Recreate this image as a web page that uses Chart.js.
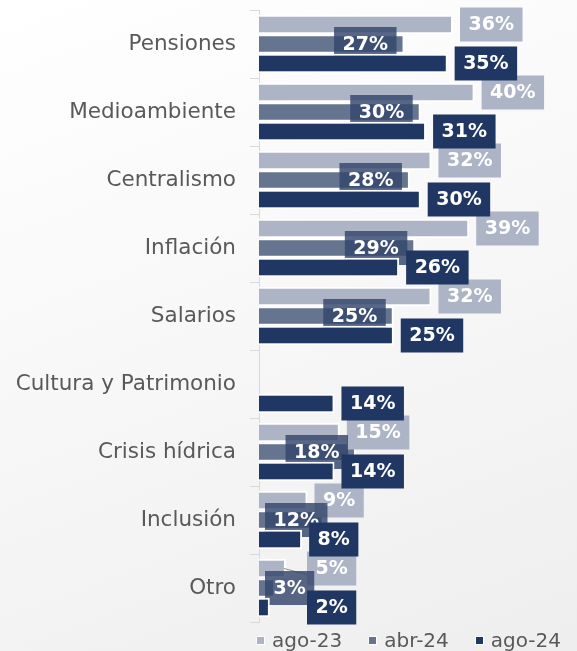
<!DOCTYPE html>
<html>
<head>
<meta charset="utf-8">
<script src="https://cdn.jsdelivr.net/npm/chart.js@4/dist/chart.umd.min.js"></script>
<style>
    html, body { margin: 0; padding: 0; }
    body {
        width: 577px; height: 651px; overflow: hidden; position: relative;
        background: linear-gradient(160deg, #ffffff 0%, #f7f7f7 50%, #eeeeee 100%);
        font-family: 'DejaVu Sans', sans-serif;
    }
    #wrap { position: absolute; left: 0; top: 0; width: 577px; height: 651px; }
    #legend {
        position: absolute; left: 256px; top: 629px; width: 330px;
        display: flex; align-items: center; white-space: nowrap;
        font-size: 20px; line-height: 22px; color: #595959;
    }
    #legend .item { display: flex; align-items: center; margin-right: 26px; flex: none; }
    #legend .box { width: 7px; height: 7px; border: 1px solid #fff; margin-right: 7px; }
</style>
</head>
<body>
<div id="wrap"><canvas id="chart"></canvas></div>
<div id="legend"></div>
<script>
// categories and series (percent)
var categories = ['Pensiones', 'Medioambiente', 'Centralismo', 'Inflación', 'Salarios',
    'Cultura y Patrimonio', 'Crisis hídrica', 'Inclusión', 'Otro'];
var seriesNames = ['ago-23', 'abr-24', 'ago-24'];
var ago23 = [36, 40, 32, 39, 32, null, 15, 9, 5];
var abr24 = [27, 30, 28, 29, 25, null, 18, 12, 3];
var ago24 = [35, 31, 30, 26, 25, 14, 14, 8, 2];
var colors = ['#adb4c6', '#66758f', '#213763'];
var boxColors = ['#adb4c6', 'rgba(52,70,108,0.82)', '#213763'];

//--- data labels in boxes
function drawLabels(chart, idx, inside) {
    var ctx = chart.ctx;
    var meta = chart.getDatasetMeta(idx);
    var data = chart.data.datasets[idx].data;
    ctx.save();
    ctx.font = 'bold 19px "DejaVu Sans"';
    ctx.textBaseline = 'middle';
    ctx.textAlign = 'center';
    meta.data.forEach(function (bar, i) {
        if (data[i] === null) return;
        var txt = data[i] + '%';
        var w = ctx.measureText(txt).width + 17;
        var h = 34;
        var x0;
        if (inside) {
            x0 = Math.max(bar.x - 8 - w, chart.chartArea.left + 6);
        } else {
            x0 = Math.max(bar.x + 7, chart.chartArea.left + 48);
            if (idx === 0 && x0 - bar.x > 20) {
                ctx.strokeStyle = '#8c8c8c';
                ctx.lineWidth = 1;
                ctx.beginPath();
                ctx.moveTo(bar.x - 2, bar.y);
                ctx.lineTo(x0, bar.y + 6);
                ctx.stroke();
            }
        }
        ctx.fillStyle = boxColors[idx];
        ctx.fillRect(x0, bar.y - h / 2, w, h);
        ctx.fillStyle = '#ffffff';
        ctx.fillText(txt, x0 + w / 2, bar.y + 1);
    });
    ctx.restore();
}

var boxLabels = {
    id: 'boxLabels',
    afterDatasetsDraw: function (chart) {
        drawLabels(chart, 0, false);
        drawLabels(chart, 1, true);
        // ago-24 bars sit over the abr-24 boxes
        chart.getDatasetMeta(2).data.forEach(function (b) { b.draw(chart.ctx); });
        drawLabels(chart, 2, false);
    }
};

var seriesData = [ago23, abr24, ago24];
var datasets = seriesNames.map(function (name, i) {
    return {
        label: name,
        data: seriesData[i],
        backgroundColor: colors[i],
        borderColor: '#ffffff',
        borderWidth: 2,
        categoryPercentage: 0.86,
        barPercentage: 1
    };
});

new Chart(document.getElementById('chart'), {
    type: 'bar',
    data: { labels: categories, datasets: datasets },
    options: {
        indexAxis: 'y',
        responsive: true,
        maintainAspectRatio: false,
        animation: false,
        layout: { padding: { top: 10, bottom: 29, left: 0, right: 0 } },
        plugins: {
            legend: { display: false },
            tooltip: { enabled: false }
        },
        scales: {
            x: { display: false, min: 0, max: 59 },
            y: {
                afterFit: function (s) {
                    s.width = 259;
                    s.paddingTop = 0;
                    s.paddingBottom = 0;
                },
                grid: { drawOnChartArea: false, tickLength: 9, color: '#d9d9d9', offset: true },
                border: { display: true, color: '#d9d9d9' },
                ticks: { color: '#595959', padding: 14, font: { family: 'DejaVu Sans', size: 21.5 } }
            }
        }
    },
    plugins: [boxLabels]
});

// legend
var legend = document.getElementById('legend');
seriesNames.forEach(function (name, i) {
    var item = document.createElement('div');
    item.className = 'item';
    var box = document.createElement('span');
    box.className = 'box';
    box.style.background = colors[i];
    var t = document.createElement('span');
    t.textContent = name;
    item.appendChild(box);
    item.appendChild(t);
    legend.appendChild(item);
});
</script>
</body>
</html>
